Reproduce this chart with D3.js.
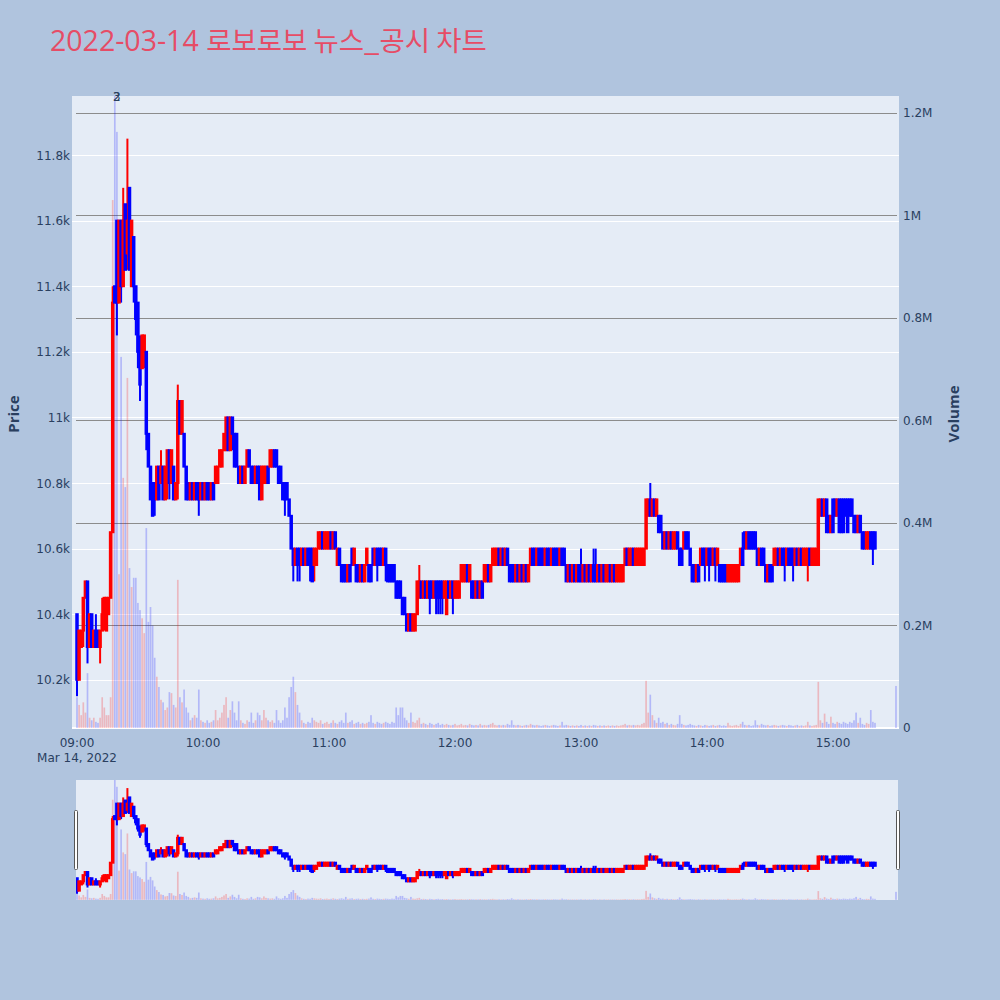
<!DOCTYPE html>
<html><head><meta charset="utf-8">
<script src="https://cdn.jsdelivr.net/npm/d3@7"></script>
<style>html,body{margin:0;padding:0;background:#b0c4de;}svg{display:block;}</style>
</head><body>
<script>
// ---- data (1-minute candles 09:00..15:20, plus 15:30 closing auction) ----
const opens = [
10400,10200,10300,10350,10450,10500,10300,10400,10300,10350,
10350,10300,10350,10400,10350,10400,10450,10650,11400,11600,
11350,11600,11400,11650,11500,11700,11400,11550,11400,11350,
11200,11150,11200,11200,10950,10850,10800,10800,10750,10850,
10800,10850,10750,10800,10900,10800,10850,10750,10800,11050,
10950,10950,10850,10800,10750,10800,10750,10800,10800,10750,
10800,10750,10800,10800,10750,10800,10800,10800,10850,10850,
10900,10900,11000,10900,11000,10950,10950,10850,10800,10850,
10800,10850,10900,10850,10850,10800,10850,10850,10750,10800,
10800,10850,10850,10850,10900,10900,10850,10850,10800,10800,
10800,10750,10700,10600,10550,10600,10600,10550,10600,10550,
10600,10600,10600,10550,10550,10600,10600,10650,10600,10600,
10600,10650,10600,10650,10550,10600,10550,10550,10550,10500,
10550,10600,10550,10550,10550,10500,10550,10500,10550,10550,
10550,10600,10550,10600,10600,10600,10550,10600,10550,10550,
10550,10550,10500,10500,10500,10450,10450,10400,10350,10400,
10350,10350,10400,10450,10500,10450,10500,10450,10500,10500,
10450,10500,10500,10500,10500,10450,10400,10500,10450,10500,
10450,10450,10450,10500,10500,10500,10550,10500,10500,10500,
10450,10500,10450,10500,10500,10500,10550,10500,10550,10550,
10550,10600,10550,10600,10550,10600,10550,10550,10550,10500,
10550,10500,10550,10500,10550,10500,10550,10600,10600,10550,
10600,10600,10600,10550,10600,10600,10550,10600,10600,10600,
10550,10600,10600,10550,10500,10550,10500,10550,10500,10550,
10550,10500,10550,10500,10550,10500,10550,10550,10500,10550,
10500,10550,10500,10500,10550,10500,10550,10500,10500,10500,
10500,10550,10600,10550,10550,10600,10550,10550,10550,10550,
10550,10600,10700,10750,10700,10750,10700,10700,10700,10650,
10600,10650,10600,10650,10600,10600,10650,10600,10600,10600,
10650,10650,10600,10550,10550,10500,10550,10550,10600,10600,
10550,10600,10600,10550,10600,10550,10550,10550,10550,10550,
10500,10500,10500,10500,10500,10500,10550,10600,10650,10600,
10650,10650,10650,10650,10600,10550,10600,10600,10550,10500,
10550,10550,10550,10550,10600,10550,10600,10600,10550,10600,
10600,10600,10550,10600,10550,10600,10550,10550,10550,10600,
10550,10550,10550,10550,10700,10750,10700,10750,10700,10650,
10750,10750,10700,10750,10750,10750,10750,10750,10750,10750,
10700,10700,10650,10700,10650,10650,10600,10600,10650,10650,10650,
10600];
const highs = [
10400,10350,10350,10450,10500,10500,10400,10400,10350,10400,
10350,10350,10450,10450,10450,10450,10650,11400,11400,11600,
11600,11600,11700,11650,11850,11700,11600,11550,11400,11350,
11250,11250,11250,11200,10950,10850,10800,10800,10850,10850,
10900,10850,10850,10900,10900,10900,10850,10800,11100,11050,
11050,10950,10850,10800,10800,10800,10800,10800,10800,10800,
10800,10800,10800,10800,10800,10800,10850,10850,10900,10900,
10950,11000,11000,11000,11000,10950,10950,10850,10850,10850,
10850,10900,10900,10850,10850,10850,10850,10850,10850,10850,
10850,10850,10900,10900,10900,10900,10850,10850,10800,10800,
10800,10750,10700,10600,10600,10600,10600,10600,10600,10600,
10600,10600,10600,10600,10600,10650,10650,10650,10650,10650,
10650,10650,10650,10650,10600,10600,10550,10550,10550,10550,
10550,10600,10600,10550,10550,10550,10550,10550,10600,10550,
10550,10600,10600,10600,10600,10600,10600,10600,10550,10550,
10550,10550,10500,10500,10500,10450,10450,10400,10400,10400,
10400,10400,10500,10550,10500,10500,10500,10500,10500,10500,
10500,10500,10500,10500,10500,10500,10500,10500,10500,10500,
10500,10500,10500,10550,10550,10550,10550,10550,10500,10500,
10500,10500,10500,10500,10550,10550,10550,10550,10600,10600,
10600,10600,10600,10600,10600,10600,10550,10550,10550,10550,
10550,10550,10550,10550,10550,10550,10600,10600,10600,10600,
10600,10600,10600,10600,10600,10600,10600,10600,10600,10600,
10600,10600,10600,10550,10550,10550,10550,10550,10550,10550,
10600,10550,10550,10550,10550,10550,10600,10600,10550,10550,
10550,10550,10550,10550,10550,10550,10550,10550,10550,10550,
10550,10600,10600,10600,10600,10600,10600,10600,10600,10600,
10600,10750,10750,10800,10750,10750,10750,10700,10700,10650,
10650,10650,10650,10650,10650,10650,10650,10600,10600,10650,
10650,10650,10600,10550,10550,10550,10550,10600,10600,10600,
10600,10600,10600,10600,10600,10600,10550,10550,10550,10550,
10550,10550,10550,10550,10550,10550,10600,10650,10650,10650,
10650,10650,10650,10650,10600,10600,10600,10600,10550,10550,
10550,10550,10600,10600,10600,10600,10600,10600,10600,10600,
10600,10600,10600,10600,10600,10600,10600,10600,10600,10600,
10600,10600,10600,10750,10750,10750,10750,10750,10700,10700,
10750,10750,10750,10750,10750,10750,10750,10750,10750,10750,
10700,10700,10700,10700,10650,10650,10650,10650,10650,10650,10650,
10600];
const lows = [
10150,10200,10300,10300,10450,10250,10300,10300,10300,10300,
10300,10250,10350,10350,10350,10400,10450,10650,11350,11250,
11350,11350,11400,11450,11450,11450,11400,11350,11250,11150,
11050,11150,11150,10900,10850,10750,10700,10700,10750,10750,
10800,10750,10750,10750,10750,10800,10750,10750,10750,10950,
10950,10850,10750,10750,10750,10750,10750,10750,10700,10750,
10750,10750,10750,10750,10750,10750,10800,10800,10850,10850,
10900,10900,10900,10900,10900,10850,10850,10800,10800,10800,
10800,10850,10850,10800,10800,10800,10800,10750,10750,10800,
10800,10800,10850,10850,10850,10850,10800,10800,10750,10700,
10750,10700,10600,10500,10550,10500,10500,10550,10550,10550,
10550,10500,10500,10500,10550,10600,10600,10600,10600,10600,
10600,10600,10600,10600,10550,10550,10500,10500,10500,10500,
10500,10550,10550,10500,10500,10500,10500,10500,10550,10500,
10500,10550,10550,10500,10550,10550,10550,10500,10500,10500,
10500,10500,10450,10450,10450,10400,10400,10350,10350,10350,
10350,10350,10400,10450,10450,10450,10450,10450,10400,10450,
10450,10400,10400,10400,10400,10450,10400,10450,10450,10400,
10450,10450,10450,10500,10500,10500,10500,10500,10450,10450,
10450,10450,10450,10450,10500,10500,10500,10500,10550,10550,
10550,10550,10550,10550,10550,10550,10500,10500,10500,10500,
10500,10500,10500,10500,10500,10500,10550,10550,10550,10550,
10550,10550,10550,10550,10550,10550,10550,10550,10550,10550,
10550,10550,10550,10500,10500,10500,10500,10500,10500,10500,
10500,10500,10500,10500,10500,10500,10500,10500,10500,10500,
10500,10500,10500,10500,10500,10500,10500,10500,10500,10500,
10500,10550,10550,10550,10550,10550,10550,10550,10550,10550,
10550,10600,10700,10700,10700,10700,10700,10650,10650,10600,
10600,10600,10600,10600,10600,10600,10600,10550,10550,10600,
10600,10600,10550,10500,10500,10500,10500,10550,10550,10500,
10550,10500,10550,10550,10500,10550,10500,10500,10500,10500,
10500,10500,10500,10500,10500,10500,10550,10550,10600,10600,
10600,10600,10600,10600,10550,10550,10550,10550,10500,10500,
10500,10500,10550,10550,10550,10550,10550,10500,10550,10550,
10550,10500,10550,10550,10550,10550,10550,10550,10500,10550,
10550,10550,10550,10550,10700,10700,10700,10650,10650,10650,
10650,10700,10700,10650,10650,10650,10700,10650,10700,10700,
10650,10650,10650,10650,10600,10600,10600,10600,10600,10550,10600,
10600];
const closes = [
10200,10350,10350,10450,10500,10300,10400,10300,10350,10300,
10300,10350,10400,10450,10450,10450,10650,11350,11350,11350,
11600,11400,11600,11450,11600,11450,11600,11400,11300,11200,
11100,11250,11250,10950,10850,10750,10700,10750,10850,10750,
10850,10750,10850,10900,10800,10900,10750,10800,11050,10950,
11050,10850,10750,10750,10800,10750,10800,10750,10750,10800,
10750,10800,10750,10750,10800,10750,10850,10850,10900,10900,
10950,11000,10900,11000,10950,10850,10850,10800,10850,10800,
10850,10900,10850,10800,10800,10850,10800,10750,10850,10850,
10850,10800,10900,10900,10850,10850,10800,10800,10750,10750,
10750,10700,10600,10550,10600,10550,10550,10600,10550,10600,
10550,10550,10500,10600,10600,10650,10650,10600,10650,10650,
10650,10600,10650,10600,10600,10550,10500,10500,10500,10550,
10500,10550,10600,10500,10500,10550,10500,10550,10600,10500,
10500,10550,10600,10550,10550,10550,10600,10550,10500,10500,
10500,10500,10450,10450,10450,10400,10400,10350,10400,10350,
10400,10400,10500,10500,10450,10500,10450,10500,10450,10450,
10500,10450,10450,10450,10450,10500,10500,10450,10500,10450,
10500,10500,10500,10550,10550,10550,10500,10550,10450,10450,
10500,10450,10500,10450,10550,10550,10500,10550,10600,10600,
10600,10550,10600,10550,10600,10550,10500,10500,10500,10550,
10500,10550,10500,10550,10500,10550,10600,10550,10550,10600,
10550,10550,10550,10600,10550,10550,10600,10550,10550,10550,
10600,10550,10550,10500,10550,10500,10550,10500,10550,10500,
10500,10550,10500,10550,10500,10550,10500,10500,10550,10500,
10550,10500,10550,10550,10500,10550,10500,10550,10550,10550,
10550,10600,10550,10600,10600,10550,10600,10600,10600,10600,
10600,10750,10750,10700,10750,10700,10750,10650,10650,10600,
10650,10600,10650,10600,10650,10650,10600,10550,10550,10650,
10600,10600,10550,10500,10500,10550,10500,10600,10550,10550,
10600,10550,10550,10600,10550,10600,10500,10500,10500,10500,
10550,10550,10550,10550,10550,10550,10600,10550,10600,10650,
10600,10600,10600,10600,10550,10600,10550,10550,10500,10550,
10500,10500,10600,10600,10550,10600,10550,10550,10600,10550,
10550,10550,10600,10550,10600,10550,10600,10600,10600,10550,
10600,10600,10600,10750,10750,10700,10750,10650,10650,10700,
10650,10700,10750,10650,10650,10650,10700,10650,10700,10700,
10650,10650,10700,10650,10600,10600,10650,10650,10600,10600,10600,
10600];
const volumesK = [
60,45,25,50,30,107,20,15,20,12,
10,20,60,40,25,25,60,1030,1235,1163,
300,724,488,470,683,312,275,293,293,244,
230,214,185,390,207,236,200,137,100,80,
55,50,35,40,70,68,45,40,289,60,
50,75,40,30,15,20,25,20,75,15,
12,10,15,10,12,15,35,15,20,30,
45,60,20,35,52,30,15,52,15,10,
8,15,12,30,10,15,30,25,15,35,
20,15,12,15,10,35,15,10,15,40,
20,60,80,100,70,45,30,15,10,8,
12,10,20,15,12,10,15,8,10,12,
8,10,15,10,8,12,15,10,30,10,
12,15,8,10,12,8,10,8,10,12,
25,10,8,12,10,8,10,12,10,8,
12,10,40,25,40,40,20,15,10,30,
12,10,15,20,8,10,8,6,10,8,
6,8,10,6,8,6,8,6,5,6,
8,5,6,8,5,6,5,8,6,5,
6,5,8,5,6,5,6,8,10,6,
5,6,5,6,5,8,6,15,6,5,
6,5,4,5,6,5,8,6,5,6,
5,4,5,6,5,4,5,6,5,4,
5,12,5,6,5,4,5,4,5,4,
6,4,5,4,5,4,6,5,4,5,
4,5,4,5,4,5,4,5,4,5,
6,8,5,6,5,6,5,6,5,8,
10,92,30,65,25,15,10,20,10,12,
8,10,6,8,6,5,8,25,8,6,
5,6,8,6,5,4,6,5,4,6,
5,4,5,6,4,5,6,4,5,4,
10,5,4,5,6,4,8,12,6,5,
6,4,5,15,6,5,8,6,5,6,
4,5,6,5,4,5,6,5,4,6,
5,4,5,6,4,5,4,5,12,5,
4,5,6,90,15,10,28,12,8,22,
10,8,12,10,8,12,10,8,12,10,
15,30,10,20,8,6,10,8,35,12,10,
82];
const priceTicks = [10200,10400,10600,10800,11000,11200,11400,11600,11800];
const volumeTicks = [0,200000,400000,600000,800000,1000000,1200000];
const hourTicks = ["09:00","10:00","11:00","12:00","13:00","14:00","15:00"];
const annotationTexts = ["2","3"];
const annotationTimes = ["09:19","09:19"];
const titleDate = "2022-03-14 ";
const titleName = "로보로보 뉴스_공시 차트";

// ---- build records ----
const parseHM = s => { const [h,m]=s.split(":").map(Number); return new Date(2022,2,14,h,m); };
const t0 = parseHM("09:00");
const n = Math.min(opens.length,highs.length,lows.length,closes.length,volumesK.length);
const data = d3.range(n).map(i => ({
  t: i < n-1 ? d3.timeMinute.offset(t0,i) : parseHM("15:30"),
  o: opens[i], h: highs[i], l: lows[i], c: closes[i], v: volumesK[i]*1000
}));

const W=1000,H=1000;
const svg = d3.select("body").append("svg").attr("width",W).attr("height",H);
svg.append("rect").attr("width",W).attr("height",H).attr("fill","#b0c4de");

const P = {l:72,r:899,t:96,b:729};
const S = {l:76,r:898,t:780,b:900};
const x = d3.scaleTime()
  .domain([d3.timeSecond.offset(t0,-143), d3.timeSecond.offset(t0, Math.round(391.43*60))])
  .range([P.l,P.r]);
const yP = d3.scaleLinear().domain([10050,11980]).range([P.b,P.t]);
const yV = d3.scaleLinear().domain([-2000,1233000]).range([P.b,P.t]);
const ySP = d3.scaleLinear().domain([10050,11980]).range([S.b,S.t]);
const ySV = d3.scaleLinear().domain([-2000,1233000]).range([S.b,S.t]);

const UP="#ff0000", DN="#0000ff";
const col = d => d.c > d.o ? UP : DN;
const tickFont = "'DejaVu Sans', Verdana, sans-serif";
const txtCol = "#2a3f5f";

const defs = svg.append("defs");
defs.append("clipPath").attr("id","clipMain").append("rect")
  .attr("x",P.l).attr("y",P.t).attr("width",P.r-P.l).attr("height",P.b-P.t);
defs.append("clipPath").attr("id","clipSlider").append("rect")
  .attr("x",S.l).attr("y",S.t).attr("width",S.r-S.l).attr("height",S.b-S.t);

// plot background
svg.append("rect").attr("x",P.l).attr("y",P.t).attr("width",P.r-P.l).attr("height",P.b-P.t).attr("fill","#e5ecf6");

// price grid (white)
svg.append("g").selectAll("line").data(priceTicks).join("line")
  .attr("x1",P.l).attr("x2",P.r).attr("y1",d=>Math.round(yP(d))+0.5).attr("y2",d=>Math.round(yP(d))+0.5)
  .attr("stroke","#ffffff").attr("stroke-width",1);
// volume zero line
svg.append("line").attr("x1",P.l).attr("x2",P.r).attr("y1",yV(0)).attr("y2",yV(0))
  .attr("stroke","#ffffff").attr("stroke-width",2);
// volume grid (gray)
svg.append("g").selectAll("line").data(volumeTicks.filter(v=>v>0)).join("line")
  .attr("x1",76).attr("x2",897).attr("y1",d=>Math.round(yV(d))+0.5).attr("y2",d=>Math.round(yV(d))+0.5)
  .attr("stroke","#8c8c8c").attr("stroke-width",1.2);

function drawChart(g, xs, yp, yv, bodyW, lw) {
  const bw = 2.1*0.8;
  g.append("g").selectAll("rect").data(data).join("rect")
    .attr("x",d=>xs(d.t)-bw/2).attr("width",bw)
    .attr("y",d=>yv(d.v)).attr("height",d=>Math.max(0,yv(0)-yv(d.v)))
    .attr("fill",d=>col(d)).attr("opacity",0.22);
  const cg = g.append("g");
  cg.selectAll("line").data(data).join("line")
    .attr("x1",d=>xs(d.t)).attr("x2",d=>xs(d.t))
    .attr("y1",d=>yp(d.h)).attr("y2",d=>yp(d.l))
    .attr("stroke",col).attr("stroke-width",lw);
  cg.selectAll("rect").data(data).join("rect")
    .attr("x",d=>xs(d.t)-bodyW/2).attr("width",bodyW)
    .attr("y",d=>yp(Math.max(d.o,d.c))).attr("height",d=>Math.abs(yp(d.o)-yp(d.c)))
    .attr("fill",col).attr("stroke",col).attr("stroke-width",lw);
}
drawChart(svg.append("g").attr("clip-path","url(#clipMain)"), x, yP, yV, 1.5, 2);

// annotations
svg.append("g").selectAll("text").data(annotationTexts).join("text")
  .attr("x",(d,i)=>x(parseHM(annotationTimes[i])))
  .attr("y",100.5).attr("text-anchor","middle")
  .attr("font-family",tickFont).attr("font-size",12).attr("fill",txtCol).text(d=>d);

// left axis labels
const fmtP = d3.format("~s");
svg.append("g").selectAll("text").data(priceTicks).join("text")
  .attr("x",70).attr("y",d=>yP(d)+4.5).attr("text-anchor","end")
  .attr("font-family",tickFont).attr("font-size",12).attr("fill",txtCol).text(d=>fmtP(d));
// right axis labels
const fmtV = v => v===0 ? "0" : (v/1e6)+"M";
svg.append("g").selectAll("text").data(volumeTicks).join("text")
  .attr("x",903).attr("y",d=>yV(d)+4.5).attr("text-anchor","start")
  .attr("font-family",tickFont).attr("font-size",12).attr("fill",txtCol).text(d=>fmtV(d));
// bottom axis labels
svg.append("g").selectAll("text").data(hourTicks).join("text")
  .attr("x",d=>x(parseHM(d))).attr("y",747).attr("text-anchor","middle")
  .attr("font-family",tickFont).attr("font-size",12).attr("fill",txtCol).text(d=>d);
svg.append("text").attr("x",x(t0)).attr("y",762).attr("text-anchor","middle")
  .attr("font-family",tickFont).attr("font-size",12).attr("fill",txtCol).text("Mar 14, 2022");

// axis titles
svg.append("text").attr("transform","translate(19,414) rotate(-90)").attr("text-anchor","middle")
  .attr("font-family","'Open Sans', sans-serif").attr("font-weight","bold").attr("font-size",15)
  .attr("fill",txtCol).text("Price");
svg.append("text").attr("transform","translate(959,414) rotate(-90)").attr("text-anchor","middle")
  .attr("font-family","'Open Sans', sans-serif").attr("font-weight","bold").attr("font-size",15)
  .attr("fill",txtCol).text("Volume");

// title
const tt = svg.append("text").attr("x",50).attr("y",51).attr("fill","#e64c66");
tt.append("tspan").attr("font-family","'Open Sans', sans-serif").attr("font-size",28.5).text(titleDate);
tt.append("tspan").attr("font-family","'Noto Sans CJK KR', sans-serif").attr("font-size",27.5).text(titleName);

// range slider
svg.append("rect").attr("x",S.l).attr("y",S.t).attr("width",S.r-S.l).attr("height",S.b-S.t).attr("fill","#e5ecf6");
drawChart(svg.append("g").attr("clip-path","url(#clipSlider)"), x, ySP, ySV, 1.5, 2);
[S.l-2, S.r-2].forEach(hx => {
  svg.append("rect").attr("x",hx+0.5).attr("y",810.5).attr("width",3).attr("height",59)
    .attr("fill","#ffffff").attr("stroke","#555").attr("stroke-width",1).attr("rx",1);
});
</script>
</body></html>
